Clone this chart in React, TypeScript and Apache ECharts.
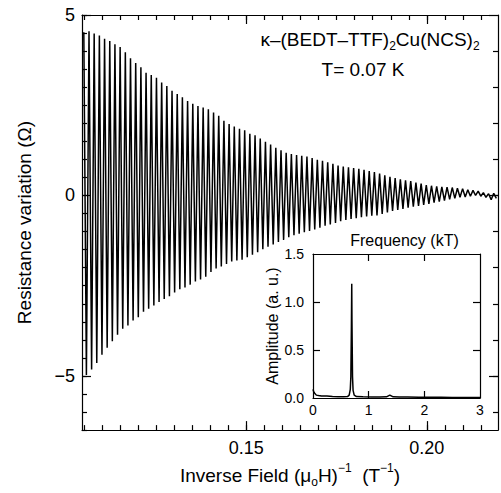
import React, { useEffect, useRef } from "react";
import * as echarts from "echarts";

// Main curve: positions (inverse field, T^-1) and values (Ω) of the oscillation maxima and minima
const peakField = [
  0.10500, 0.10644, 0.10787, 0.10931, 0.11075, 0.11219, 0.11362, 0.11506, 0.11650, 0.11793,
  0.11937, 0.12081, 0.12224, 0.12368, 0.12512, 0.12656, 0.12799, 0.12943, 0.13087, 0.13230,
  0.13374, 0.13518, 0.13661, 0.13805, 0.13949, 0.14093, 0.14236, 0.14380, 0.14524, 0.14667,
  0.14811, 0.14955, 0.15098, 0.15242, 0.15386, 0.15530, 0.15673, 0.15817, 0.15961, 0.16104,
  0.16248, 0.16392, 0.16535, 0.16679, 0.16823, 0.16967, 0.17110, 0.17254, 0.17398, 0.17541,
  0.17685, 0.17829, 0.17972, 0.18116, 0.18260, 0.18404, 0.18547, 0.18691, 0.18835, 0.18978,
  0.19122, 0.19266, 0.19409, 0.19553, 0.19697, 0.19841, 0.19984, 0.20128, 0.20272, 0.20415,
  0.20559, 0.20703, 0.20846, 0.20990, 0.21134, 0.21278, 0.21421, 0.21565, 0.21709, 0.21852,
];
const peakOhm = [
  4.52, 4.55, 4.49, 4.43, 4.34, 4.28, 4.19, 4.11, 3.97, 3.80,
  3.67, 3.55, 3.40, 3.34, 3.26, 3.13, 3.03, 2.90, 2.81, 2.72,
  2.62, 2.54, 2.48, 2.44, 2.39, 2.30, 2.21, 2.07, 1.98, 1.91,
  1.85, 1.81, 1.71, 1.67, 1.58, 1.49, 1.41, 1.32, 1.25, 1.18,
  1.15, 1.12, 1.10, 1.08, 1.04, 0.99, 0.96, 0.92, 0.88, 0.83,
  0.80, 0.78, 0.76, 0.74, 0.71, 0.68, 0.65, 0.61, 0.56, 0.52,
  0.48, 0.45, 0.42, 0.40, 0.36, 0.33, 0.29, 0.27, 0.25, 0.24,
  0.23, 0.22, 0.20, 0.19, 0.16, 0.14, 0.12, 0.08, 0.05, 0.06,
];
const troughField = [
  0.10572, 0.10716, 0.10859, 0.11003, 0.11147, 0.11290, 0.11434, 0.11578, 0.11722, 0.11865,
  0.12009, 0.12153, 0.12296, 0.12440, 0.12584, 0.12727, 0.12871, 0.13015, 0.13159, 0.13302,
  0.13446, 0.13590, 0.13733, 0.13877, 0.14021, 0.14164, 0.14308, 0.14452, 0.14596, 0.14739,
  0.14883, 0.15027, 0.15170, 0.15314, 0.15458, 0.15601, 0.15745, 0.15889, 0.16033, 0.16176,
  0.16320, 0.16464, 0.16607, 0.16751, 0.16895, 0.17038, 0.17182, 0.17326, 0.17470, 0.17613,
  0.17757, 0.17901, 0.18044, 0.18188, 0.18332, 0.18475, 0.18619, 0.18763, 0.18907, 0.19050,
  0.19194, 0.19338, 0.19481, 0.19625, 0.19769, 0.19912, 0.20056, 0.20200, 0.20344, 0.20487,
  0.20631, 0.20775, 0.20918, 0.21062, 0.21206, 0.21349, 0.21493, 0.21637, 0.21781, 0.21924,
];
const troughOhm = [
  -4.97, -4.82, -4.64, -4.41, -4.22, -4.04, -3.86, -3.69, -3.60, -3.46,
  -3.37, -3.22, -3.14, -3.05, -2.95, -2.87, -2.79, -2.69, -2.60, -2.55,
  -2.47, -2.38, -2.33, -2.25, -2.12, -2.02, -1.97, -1.90, -1.83, -1.80,
  -1.78, -1.71, -1.64, -1.57, -1.49, -1.42, -1.36, -1.29, -1.23, -1.16,
  -1.10, -1.06, -1.02, -0.98, -0.94, -0.89, -0.84, -0.80, -0.76, -0.71,
  -0.68, -0.65, -0.63, -0.60, -0.58, -0.56, -0.55, -0.51, -0.47, -0.43,
  -0.40, -0.37, -0.34, -0.31, -0.29, -0.26, -0.23, -0.20, -0.17, -0.14,
  -0.11, -0.08, -0.05, -0.04, -0.02, 0.00, -0.02, -0.05, -0.12, -0.08,
];

// Inset: Fourier spectrum
const fftFreq = [
  0, 0.01, 0.03, 0.06, 0.1, 0.15, 0.25, 0.35, 0.45, 0.55, 0.62, 0.65, 0.67, 0.68, 0.69,
  0.696, 0.70, 0.71, 0.72, 0.74, 0.78, 0.9, 1.05, 1.2, 1.32, 1.38, 1.44, 1.55, 1.7, 1.9,
  2.1, 2.3, 2.5, 2.7, 2.9, 3.0,
];
const fftAmp = [
  0.09, 0.07, 0.05, 0.03, 0.025, 0.02, 0.02, 0.015, 0.012, 0.012, 0.015, 0.03, 0.09, 0.22, 0.75,
  1.19, 0.8, 0.22, 0.08, 0.03, 0.015, 0.012, 0.01, 0.01, 0.012, 0.03, 0.012, 0.01, 0.01, 0.008,
  0.008, 0.008, 0.006, 0.006, 0.006, 0.006,
];

// Ticks
const xMajorTicks = [0.15, 0.2];
const xMinorTicks = [
  0.105, 0.11, 0.115, 0.12, 0.125, 0.13, 0.135, 0.14, 0.145, 0.15, 0.155, 0.16,
  0.165, 0.17, 0.175, 0.18, 0.185, 0.19, 0.195, 0.2, 0.205, 0.21, 0.215,
];
const yMajorTicks = [-5, 0, 5];
const yMinorTicksLeft = [
  -6.5, -6, -5.5, -5, -4.5, -4, -3.5, -3, -2.5, -2, -1.5, -1, -0.5, 0, 0.5, 1, 1.5, 2,
  2.5, 3, 3.5, 4, 4.5, 5,
];
const yMinorTicksRight = [-6, -5, -4, -3, -2, -1, 0, 1, 2, 3, 4];
const insetXLabels = [0, 1, 2, 3];
const insetXTicks = [1, 2];
const insetYLabels = [0, 0.5, 1, 1.5];
const insetYTicks = [0.5, 1];

const FONT = "'Liberation Sans', Arial, Helvetica, sans-serif";
const BLACK = "#000";

export default function App() {
  const ref = useRef<HTMLDivElement>(null);

  useEffect(() => {
    if (!ref.current) return;
    const chart = echarts.init(ref.current, undefined, { renderer: "svg" });

    const mainData: number[][] = [];
    for (let i = 0; i < peakField.length; i++) {
      mainData.push([peakField[i], peakOhm[i]]);
      if (i < troughField.length) mainData.push([troughField[i], troughOhm[i]]);
    }
    const fftData = fftFreq.map((f, i) => [f, fftAmp[i]]);

    const richMain = {
      a: { fontSize: 19, fontFamily: FONT, color: BLACK, lineHeight: 26 },
      s: { fontSize: 12, fontFamily: FONT, color: BLACK, lineHeight: 12, verticalAlign: "bottom" },
      p: { fontSize: 12, fontFamily: FONT, color: BLACK, lineHeight: 12, verticalAlign: "top" },
    };

    const X_MIN = 0.1045;
    const X_MAX = 0.2197;
    const Y_MIN = -6.5;
    const Y_MAX = 5;

    const lineStyle = { color: BLACK, width: 1.2 };

    const tickAxis = (
      grid: number,
      position: string,
      min: number,
      max: number,
      ticks: number[],
      length: number,
      showLine: boolean
    ) => ({
      gridIndex: grid,
      type: "value",
      position,
      min,
      max,
      axisLine: { show: showLine, onZero: false, lineStyle },
      axisTick: { show: true, inside: true, length, customValues: ticks, lineStyle },
      axisLabel: { show: false },
      splitLine: { show: false },
    });

    const option: any = {
      animation: false,
      backgroundColor: "#fff",
      textStyle: { fontFamily: FONT, color: BLACK },
      grid: [
        { left: 82, top: 15, width: 416, height: 423 },
        { left: 313, top: 254, width: 167, height: 144 },
      ],
      xAxis: [
        {
          ...tickAxis(0, "bottom", X_MIN, X_MAX, xMajorTicks, 9, true),
          axisLabel: {
            show: true,
            customValues: xMajorTicks,
            margin: 9,
            color: BLACK,
            fontSize: 18,
            fontFamily: FONT,
            formatter: (v: number) => v.toFixed(2),
          },
          name: "{a|Inverse Field (μ}{s|o}{a|H)}{p|−1}{a|  (T}{p|−1}{a|)}",
          nameLocation: "middle",
          nameGap: 23,
          nameTextStyle: { rich: richMain, fontSize: 19, fontFamily: FONT, color: BLACK },
        },
        tickAxis(0, "bottom", X_MIN, X_MAX, xMinorTicks, 5, false),
        tickAxis(0, "top", X_MIN, X_MAX, xMajorTicks, 9, true),
        tickAxis(0, "top", X_MIN, X_MAX, xMinorTicks, 5, false),
        {
          ...tickAxis(1, "bottom", 0, 3, insetXTicks, 7, true),
          axisLabel: {
            show: true,
            customValues: insetXLabels,
            margin: 5,
            color: BLACK,
            fontSize: 14,
            fontFamily: FONT,
            formatter: (v: number) => String(v),
          },
        },
        {
          ...tickAxis(1, "top", 0, 3, insetXTicks, 7, true),
          name: "Frequency (kT)",
          nameLocation: "middle",
          nameGap: 6,
          nameTextStyle: { fontSize: 16, fontFamily: FONT, color: BLACK, padding: [0, 0, 0, 16] },
        },
      ],
      yAxis: [
        {
          ...tickAxis(0, "left", Y_MIN, Y_MAX, yMajorTicks, 9, true),
          axisLabel: {
            show: true,
            customValues: yMajorTicks,
            margin: 7,
            color: BLACK,
            fontSize: 18,
            fontFamily: FONT,
            formatter: (v: number) => (v < 0 ? "−" + Math.abs(v) : String(v)),
          },
          name: "Resistance variation (Ω)",
          nameLocation: "middle",
          nameGap: 48,
          nameTextStyle: { fontSize: 19, fontFamily: FONT, color: BLACK },
        },
        tickAxis(0, "left", Y_MIN, Y_MAX, yMinorTicksLeft, 5, false),
        tickAxis(0, "right", Y_MIN, Y_MAX, yMajorTicks, 9, true),
        tickAxis(0, "right", Y_MIN, Y_MAX, yMinorTicksRight, 5, false),
        {
          ...tickAxis(1, "left", 0, 1.5, insetYTicks, 7, true),
          axisLabel: {
            show: true,
            customValues: insetYLabels,
            margin: 9,
            color: BLACK,
            fontSize: 14,
            fontFamily: FONT,
            formatter: (v: number) => v.toFixed(1),
          },
          name: "Amplitude (a. u.)",
          nameLocation: "middle",
          nameGap: 28,
          nameTextStyle: { fontSize: 16, fontFamily: FONT, color: BLACK },
        },
        tickAxis(1, "right", 0, 1.5, insetYTicks, 7, true),
      ],
      series: [
        {
          type: "line",
          xAxisIndex: 0,
          yAxisIndex: 0,
          data: mainData,
          showSymbol: false,
          symbol: "none",
          lineStyle: { color: BLACK, width: 1.5 },
          clip: true,
        },
        {
          type: "line",
          xAxisIndex: 4,
          yAxisIndex: 4,
          data: fftData,
          showSymbol: false,
          symbol: "none",
          lineStyle: { color: BLACK, width: 1.5 },
          clip: true,
        },
      ],
      graphic: [
        {
          type: "text",
          x: 370,
          y: 39,
          style: {
            text: "{a|κ–(BEDT–TTF)}{s|2}{a|Cu(NCS)}{s|2}",
            rich: richMain,
            fontSize: 19,
            fontFamily: FONT,
            fill: BLACK,
            align: "center",
            verticalAlign: "middle",
          },
        },
        {
          type: "text",
          x: 363,
          y: 69,
          style: {
            text: "T= 0.07 K",
            fontSize: 19,
            fontFamily: FONT,
            fill: BLACK,
            align: "center",
            verticalAlign: "middle",
          },
        },
      ],
    };

    chart.setOption(option);
    return () => chart.dispose();
  }, []);

  return (
    <div
      ref={ref}
      style={{ position: "fixed", left: 0, top: 0, width: 501, height: 493, background: "#fff" }}
    />
  );
}
